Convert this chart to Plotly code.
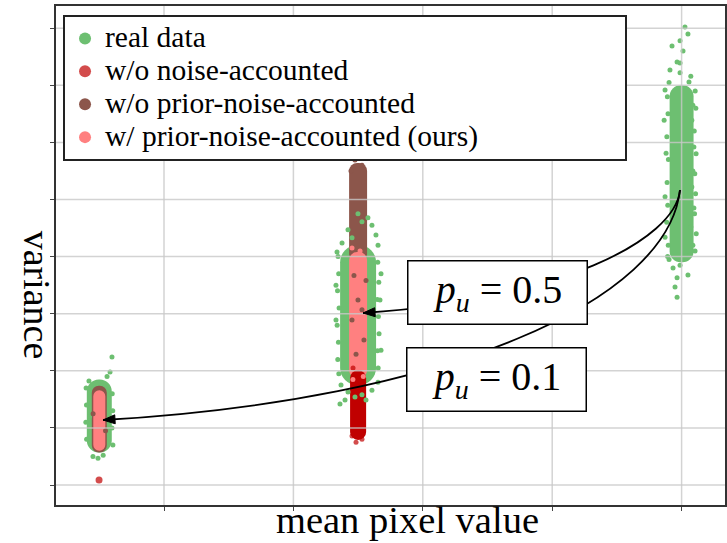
import numpy as np
import plotly.graph_objects as go

# ---------------- data (mean pixel value vs variance, x1e-3) ----------------
strip_x = [0.05, 0.25, 0.5]

# dense cores of each point cloud (low / high variance)
real_lo = [0.57, 1.75, 3.90]
real_hi = [1.85, 4.20, 7.00]
noprior_x = [0.05, 0.25]
noprior_lo = [0.57, 3.91]
noprior_hi = [1.74, 5.64]
prior_x = [0.05, 0.25]
prior_lo = [0.60, 1.87]
prior_hi = [1.66, 4.08]
nonoise_x = [0.25]
nonoise_lo = [0.79]
nonoise_hi = [2.01]

# sparse / outlying points of each cloud
real_px = [0.0598, 0.0583, 0.0560, 0.0420, 0.0451, 0.0490, 0.0530, 0.0580, 0.0425,
           0.0398, 0.0401, 0.0396, 0.0402, 0.0600, 0.0604, 0.0598, 0.0605,
           0.2499, 0.2576, 0.2607, 0.2422, 0.2638, 0.2530, 0.2376, 0.2453, 0.2654, 0.2337,
           0.2669, 0.2329, 0.2677, 0.2677, 0.2329,
           0.2368, 0.2422, 0.2530, 0.2607, 0.2654, 0.2399, 0.2360, 0.2561, 0.2476,
           0.2345, 0.2350, 0.2341, 0.2353, 0.2338, 0.2348, 0.2343, 0.2351,
           0.2652, 0.2660, 0.2648, 0.2657, 0.2662, 0.2650, 0.2655,
           0.5026, 0.5049, 0.4988, 0.4926, 0.5011, 0.4965, 0.4988, 0.4910, 0.4988, 0.5071, 0.5057, 0.4903,
           0.5087, 0.5079, 0.5095, 0.5079, 0.5071, 0.4872, 0.4880, 0.4865, 0.4872, 0.5087, 0.5095, 0.4872,
           0.4934, 0.4988, 0.5049, 0.4965, 0.4949, 0.4965, 0.5065, 0.5087, 0.4903,
           0.4890, 0.4895, 0.4886, 0.4898, 0.4888, 0.4893, 0.4885, 0.4897, 0.4892,
           0.5105, 0.5110, 0.5098, 0.5112, 0.5102, 0.5108, 0.5100, 0.5113, 0.5104]
real_py = [2.24, 1.98, 1.90, 1.82, 0.50, 0.47, 0.52, 1.60, 1.20,
           1.70, 1.40, 1.10, 0.80, 1.60, 1.30, 1.00, 0.70,
           4.75, 4.68, 4.55, 4.47, 4.38, 4.61, 4.24, 4.33, 4.20, 4.08,
           3.24, 2.89, 2.36, 3.70, 3.50,
           1.75, 1.63, 1.58, 1.66, 1.80, 1.49, 1.42, 1.49, 1.54,
           4.00, 3.70, 3.40, 3.10, 2.80, 2.50, 2.20, 1.95,
           3.90, 3.55, 3.25, 2.95, 2.65, 2.35, 2.05,
           8.02, 7.90, 7.78, 7.69, 7.60, 7.41, 7.39, 7.27, 7.22, 7.16, 7.06, 7.05,
           6.65, 6.39, 5.92, 5.22, 4.52, 4.34, 5.81, 6.39, 6.92, 5.50, 4.85, 5.05,
           3.80, 3.85, 3.68, 3.63, 3.47, 3.29, 4.03, 4.20, 3.95,
           6.80, 6.50, 6.10, 5.70, 5.30, 4.90, 4.60, 4.20, 4.00,
           6.90, 6.60, 6.20, 5.80, 5.45, 5.10, 4.75, 4.40, 4.10]
nonoise_px = [0.0498, 0.2484, 0.2530, 0.2453, 0.2461]
nonoise_py = [0.09, 0.75, 0.80, 0.86, 2.05]
noprior_px = [0.2476, 0.2530, 0.2445, 0.2545, 0.2499, 0.2453, 0.2545, 0.2484, 0.2530, 0.2468, 0.2561,
              0.0452, 0.0548]
noprior_py = [5.69, 5.60, 5.50, 5.30, 3.24, 2.89, 2.54, 2.29, 3.07, 3.67, 3.58,
              1.25, 0.95]
prior_px = [0.2453, 0.2515, 0.2460, 0.2540]
prior_py = [4.15, 4.10, 1.85, 1.90]

names = ["real data", "w/o noise-accounted", "w/o prior-noise-accounted",
         "w/ prior-noise-accounted (ours)"]
pu_values = ["0.5", "0.1"]

# grid positions (ticks, no labels)
x_ticks = [0.1, 0.2, 0.3, 0.4, 0.5]
y_ticks = [0, 1, 2, 3, 4, 5, 6, 7, 8]

# ---------------- styles ----------------
GREEN, RED, BROWN, PINK = "#6dbf71", "#c00000", "#8c564b", "#ff8080"
GRID = "rgba(200,200,200,0.8)"
SERIF = "Liberation Serif"
core_width = {"real": [0.0193, 0.0278, 0.0185], "noprior": [0.0116, 0.0139],
              "prior": [0.0093, 0.0139], "nonoise": [0.0124]}
PX_PER_X, PX_PER_Y = 1294.0, 57.1   # plot scale, used only for arrowhead geometry


def legend_name(s):
    return '<span style="font-size:29.5px">' + s + '</span>'


fig = go.Figure()

# dense cores (drawn as rounded floating bars)
for xs, lo, hi, w, col in [
    (strip_x, real_lo, real_hi, core_width["real"], GREEN),
    (noprior_x, noprior_lo, noprior_hi, core_width["noprior"], BROWN),
    (prior_x, prior_lo, prior_hi, core_width["prior"], PINK),
    (nonoise_x, nonoise_lo, nonoise_hi, core_width["nonoise"], RED),
]:
    fig.add_trace(go.Bar(x=xs, base=lo, y=np.subtract(hi, lo), width=w,
                         marker=dict(color=col, line_width=0, cornerradius="50%"),
                         showlegend=False, hoverinfo="skip"))

# sparse points + legend entries
for xs, ys, col, nm, sz in [
    (real_px, real_py, GREEN, names[0], 5),
    (nonoise_px, nonoise_py, RED, names[1], [7, 5, 5, 5, 5]),
    (noprior_px, noprior_py, BROWN, names[2], 5),
    (prior_px, prior_py, PINK, names[3], 5),
]:
    fig.add_trace(go.Scatter(x=xs, y=ys, mode="markers", name=legend_name(nm),
                             marker=dict(color=col, size=sz, line_width=0)))

# grid drawn over the point clouds, as in the reference
for gx in x_ticks:
    fig.add_shape(type="line", xref="x", yref="paper", x0=gx, x1=gx, y0=0, y1=1,
                  line=dict(color=GRID, width=1.5), layer="above")
for gy in y_ticks:
    fig.add_shape(type="line", xref="paper", yref="y", x0=0, x1=1, y0=gy, y1=gy,
                  line=dict(color=GRID, width=1.5), layer="above")

# curved arrows (cubic Bezier in data coordinates) with filled heads
start = (0.49876, 5.1664)
curves = [
    [(0.49490, 4.2907), (0.40603, 3.2399), (0.25379, 3.0123)],
    [(0.48949, 3.2399), (0.32102, 1.4886), (0.05286, 1.1384)],
]
for c1, c2, p3 in curves:
    path = (f"M {start[0]},{start[1]} C {c1[0]},{c1[1]} {c2[0]},{c2[1]} {p3[0]},{p3[1]}")
    fig.add_shape(type="path", path=path, xref="x", yref="y",
                  line=dict(color="black", width=1.8), layer="above")
    dx = (p3[0] - c2[0]) * PX_PER_X
    dy = (p3[1] - c2[1]) * PX_PER_Y
    n = np.hypot(dx, dy)
    ux, uy = dx / n, dy / n
    L, H = 12.0, 4.5
    bx, by = -ux * L, -uy * L
    pts = [(0, 0), (bx - uy * H, by + ux * H), (bx + uy * H, by - ux * H)]
    tri = "M " + " L ".join(f"{p3[0] + px_ / PX_PER_X},{p3[1] + py_ / PX_PER_Y}"
                             for px_, py_ in pts) + " Z"
    fig.add_shape(type="path", path=tri, xref="x", yref="y",
                  line=dict(color="black", width=1), fillcolor="black", layer="above")

# p_u labels (subscript done with a baseline shift)
for xc, yc, val in [(0.3577, 3.3713, pu_values[0]), (0.35657, 1.8476, pu_values[1])]:
    fig.add_annotation(x=xc, y=yc, xref="x", yref="y", showarrow=False,
                       text=('<i>p</i><span style="font-size:28px;baseline-shift:-9px">'
                             '<i>u</i></span> = ' + val),
                       font=dict(family=SERIF, size=40, color="black"),
                       bgcolor="white", bordercolor="black", borderwidth=1.5,
                       borderpad=4, width=170, height=54,
                       xanchor="center", yanchor="middle")

# axis labels
fig.add_annotation(x=-0.028, y=0.421, xref="paper", yref="paper", showarrow=False,
                   text="variance", textangle=90,
                   font=dict(family=SERIF, size=38, color="black"),
                   xanchor="center", yanchor="middle")
fig.add_annotation(x=0.5247, y=-0.030, xref="paper", yref="paper", showarrow=False,
                   text="mean pixel value",
                   font=dict(family=SERIF, size=38.5, color="black"),
                   xanchor="center", yanchor="middle")

axis_common = dict(showgrid=False, showticklabels=False, ticks="outside", ticklen=4,
                   tickcolor="#444", tickwidth=1.2, showline=True, linecolor="#333",
                   linewidth=1.5, mirror=True, zeroline=False, automargin=False)

fig.update_layout(
    width=727, height=543,
    margin=dict(l=56, r=2, t=6, b=38),
    paper_bgcolor="white", plot_bgcolor="white",
    font=dict(family=SERIF, color="black"),
    barmode="overlay",
    xaxis=dict(range=[0.01654, 0.53354], tickmode="array", tickvals=x_ticks,
               **axis_common),
    yaxis=dict(range=[-0.35, 8.389], tickmode="array", tickvals=y_ticks,
               **axis_common),
    legend=dict(x=0.0105, y=0.982, xanchor="left", yanchor="top",
                orientation="h", entrywidth=515, entrywidthmode="pixels",
                bgcolor="white", bordercolor="#222", borderwidth=2,
                itemsizing="constant", tracegroupgap=0,
                font=dict(family=SERIF, size=23, color="black")),
    showlegend=True,
)

fig.write_html("out.html", config={"displayModeBar": False},
               post_script="document.body.style.margin='0';")
